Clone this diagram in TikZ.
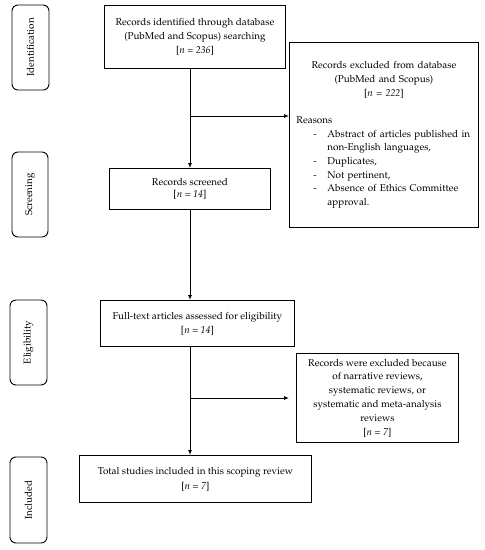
\documentclass[tikz,border=0pt]{standalone}
\usepackage[T1]{fontenc}
\usepackage{mathpazo}
\usetikzlibrary{arrows.meta}
\tikzset{
  box/.style={draw, line width=0.9pt, anchor=north west, inner sep=0pt, align=center,
    font=\fontsize{9.9}{14}\selectfont},
  phase/.style={draw, line width=0.9pt, rounded corners=6pt, rotate=90, inner sep=0pt,
    font=\fontsize{9.9}{12}\selectfont},
  conn/.style={line width=0.9pt},
  arr/.style={line width=0.9pt, -{Latex[length=5pt,width=4pt]}}
}
\newcommand{\nval}[1]{{[}\textit{n} = \textit{#1}{]}}
\newcommand{\dashitem}{\leavevmode\llap{\makebox[14pt][l]{-}}}
\begin{document}
\begin{tikzpicture}[x=1pt,y=-1pt]
\useasboundingbox (0,0) rectangle (485,550);
% phases
\node[phase, minimum width=85pt, minimum height=37pt] (ident) at (30.5,47.5) {Identification};
\node[phase, minimum width=85pt, minimum height=36pt] (screen) at (30,194.5) {Screening};
\node[phase, minimum width=85pt, minimum height=37pt] (elig) at (28.5,342.5) {Eligibility};
\node[phase, minimum width=86pt, minimum height=37pt] (incl) at (28.5,500) {Included};
% boxes
\node[box, minimum width=181pt, minimum height=63pt] (rec) at (104,5)
  {Records identified through database\\(PubMed and Scopus) searching\\\nval{236}};
\node[box, minimum width=189pt, minimum height=185pt, text width=175pt, inner xsep=7pt,
      align=left, font=\fontsize{9.9}{13.7}\selectfont] (excl1) at (289,42)
  {{\centering Records excluded from database\par (PubMed and Scopus)\par \nval{222}\par}
   \vspace{13.7pt}
   Reasons\par
   {\leftskip=31pt\parindent=0pt
   \dashitem Abstract of articles published in\newline non-English languages,\par
   \dashitem Duplicates,\par
   \dashitem Not pertinent,\par
   \dashitem Absence of Ethics Committee\newline approval.\par}};
\node[box, minimum width=161pt, minimum height=41pt, font=\fontsize{9.9}{12}\selectfont] (scr) at (109,168)
  {Records screened\\\nval{14}};
\node[box, minimum width=194pt, minimum height=46pt] (full) at (100,300)
  {Full-text articles assessed for eligibility\\\nval{14}};
\node[box, minimum width=162pt, minimum height=89pt, font=\fontsize{9.9}{13.8}\selectfont] (excl2) at (296,353)
  {Records were excluded because\\of narrative reviews,\\systematic reviews, or\\systematic and meta-analysis\\reviews\\\nval{7}};
\node[box, minimum width=232pt, minimum height=47pt, font=\fontsize{9.9}{15}\selectfont] (tot) at (79,455)
  {Total studies included in this scoping review\\\nval{7}};
% connectors
\coordinate (b1) at (190,116);
\coordinate (b2) at (190,398);
\draw[conn] (rec.south -| b1) -- (b1);
\draw[arr] (b1) -- (b1 |- scr.north);
\draw[arr] (b1) -- (b1 -| excl1.west);
\draw[arr] (scr.south -| b1) -- (b1 |- full.north);
\draw[conn] (full.south -| b1) -- (b2);
\draw[arr] (b2) -- (b2 |- tot.north);
\draw[arr, shorten >=7pt] (b2) -- (b2 -| excl2.west);
\end{tikzpicture}
\end{document}
